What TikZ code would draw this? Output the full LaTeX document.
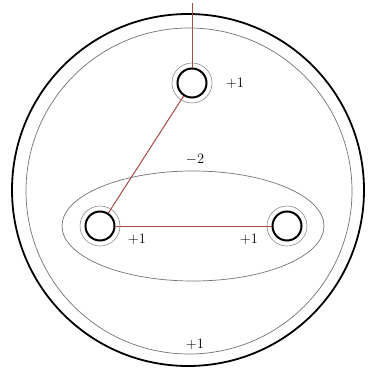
\documentclass[tikz,border=0pt]{standalone}
\begin{document}
\begin{tikzpicture}[x=1pt,y=-1pt,
  hole/.style={circle,draw=black,line width=2pt,minimum size=29pt,inner sep=0pt},
  ring/.style={draw=black!45,line width=0.6pt},
  thinline/.style={draw=black!55,line width=0.7pt},
  rim/.style={draw=black,line width=1.8pt},
  redline/.style={draw={rgb,255:red,165;green,75;blue,70},line width=1pt},
  lab/.style={font=\fontsize{14}{16}\selectfont,inner sep=0pt}]
\useasboundingbox (0,0) rectangle (375,375);
\draw[rim] (188,190) circle (176);
\draw[thinline] (189,191) circle (163);
\draw[thinline] (193,226) ellipse (131 and 55);
\node[hole] (t) at (192,83) {};
\node[hole] (l) at (100,226) {};
\node[hole] (r) at (287,226) {};
\draw[ring] (t) circle (20);
\draw[ring] (l) circle (20);
\draw[ring] (r) circle (20);
\coordinate (top) at (192,3);
\draw[redline] (top) -- (t);
\draw[redline] (t) -- (l);
\draw[redline] (l) -- (r);
\node[lab] (lt) at (235,83) {$+1$};
\node[lab] (lm) at (195,159) {$-2$};
\node[lab] (ll) at (137,239) {$+1$};
\node[lab] (lr) at (249,239) {$+1$};
\node[lab] (lb) at (195,344) {$+1$};
\end{tikzpicture}
\end{document}
